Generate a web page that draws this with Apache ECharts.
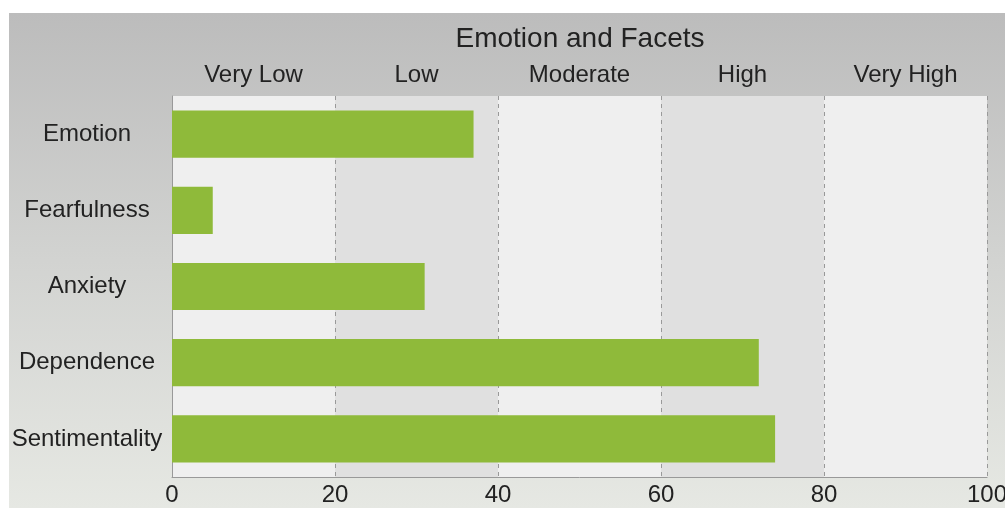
<!DOCTYPE html>
<html>
<head>
<meta charset="utf-8">
<script src="https://cdn.jsdelivr.net/npm/echarts@6/dist/echarts.min.js"></script>
<style>
html,body{margin:0;padding:0;background:#fff;width:1005px;height:508px;overflow:hidden;}
#bg{position:absolute;left:9px;top:13px;width:996px;height:495px;background:linear-gradient(to bottom,#bcbcbc 0%,#d2d3d1 50%,#e6e8e3 100%);}
#main{position:absolute;left:0;top:0;width:1005px;height:508px;}
</style>
</head>
<body>
<div id="bg"></div>
<div id="main"></div>
<script>
const title = 'Emotion and Facets';
const categories = ['Emotion', 'Fearfulness', 'Anxiety', 'Dependence', 'Sentimentality'];
const values = [37, 5, 31, 72, 74];
const levelLabels = ['Very Low', 'Low', 'Moderate', 'High', 'Very High'];
const xTicks = [0, 20, 40, 60, 80, 100];

const chart = echarts.init(document.getElementById('main'), null, {renderer: 'canvas'});
const font = '"Liberation Sans", Arial, sans-serif';
chart.setOption({
  animation: false,
  backgroundColor: 'transparent',
  title: {
    text: title,
    left: 575, top: 20, textAlign: 'center',
    textStyle: {fontFamily: font, fontSize: 28, fontWeight: 'normal', color: '#222'}
  },
  grid: {left: 172, right: 18, top: 96, bottom: 31, containLabel: false, outerBoundsMode: 'none'},
  xAxis: [{
    type: 'value', min: xTicks[0], max: xTicks[xTicks.length - 1], interval: 20,
    position: 'bottom',
    axisLine: {show: true, lineStyle: {color: '#999', width: 1}},
    axisTick: {show: false},
    axisLabel: {fontFamily: font, fontSize: 24, color: '#222', margin: 6},
    splitLine: {show: true, lineStyle: {color: '#999', type: [4, 4], width: 1}},
    splitArea: {show: true, areaStyle: {color: ['#efefef', '#e0e0e0']}}
  }, {
    type: 'category', data: levelLabels, position: 'top', boundaryGap: true,
    axisLine: {show: false}, axisTick: {show: false},
    axisLabel: {fontFamily: font, fontSize: 24, color: '#222', margin: 9},
    splitLine: {show: false}, splitArea: {show: false}
  }],
  yAxis: {
    type: 'category', data: categories, inverse: true,
    axisLine: {show: true, lineStyle: {color: '#999', width: 1}},
    axisTick: {show: false},
    axisLabel: {fontFamily: font, fontSize: 24, color: '#222', align: 'center', margin: 85},
    splitLine: {show: false}
  },
  series: [{
    type: 'bar', data: values, xAxisIndex: 0,
    barCategoryGap: '38%',
    itemStyle: {color: '#8fba3a'}
  }]
});
</script>
</body>
</html>
